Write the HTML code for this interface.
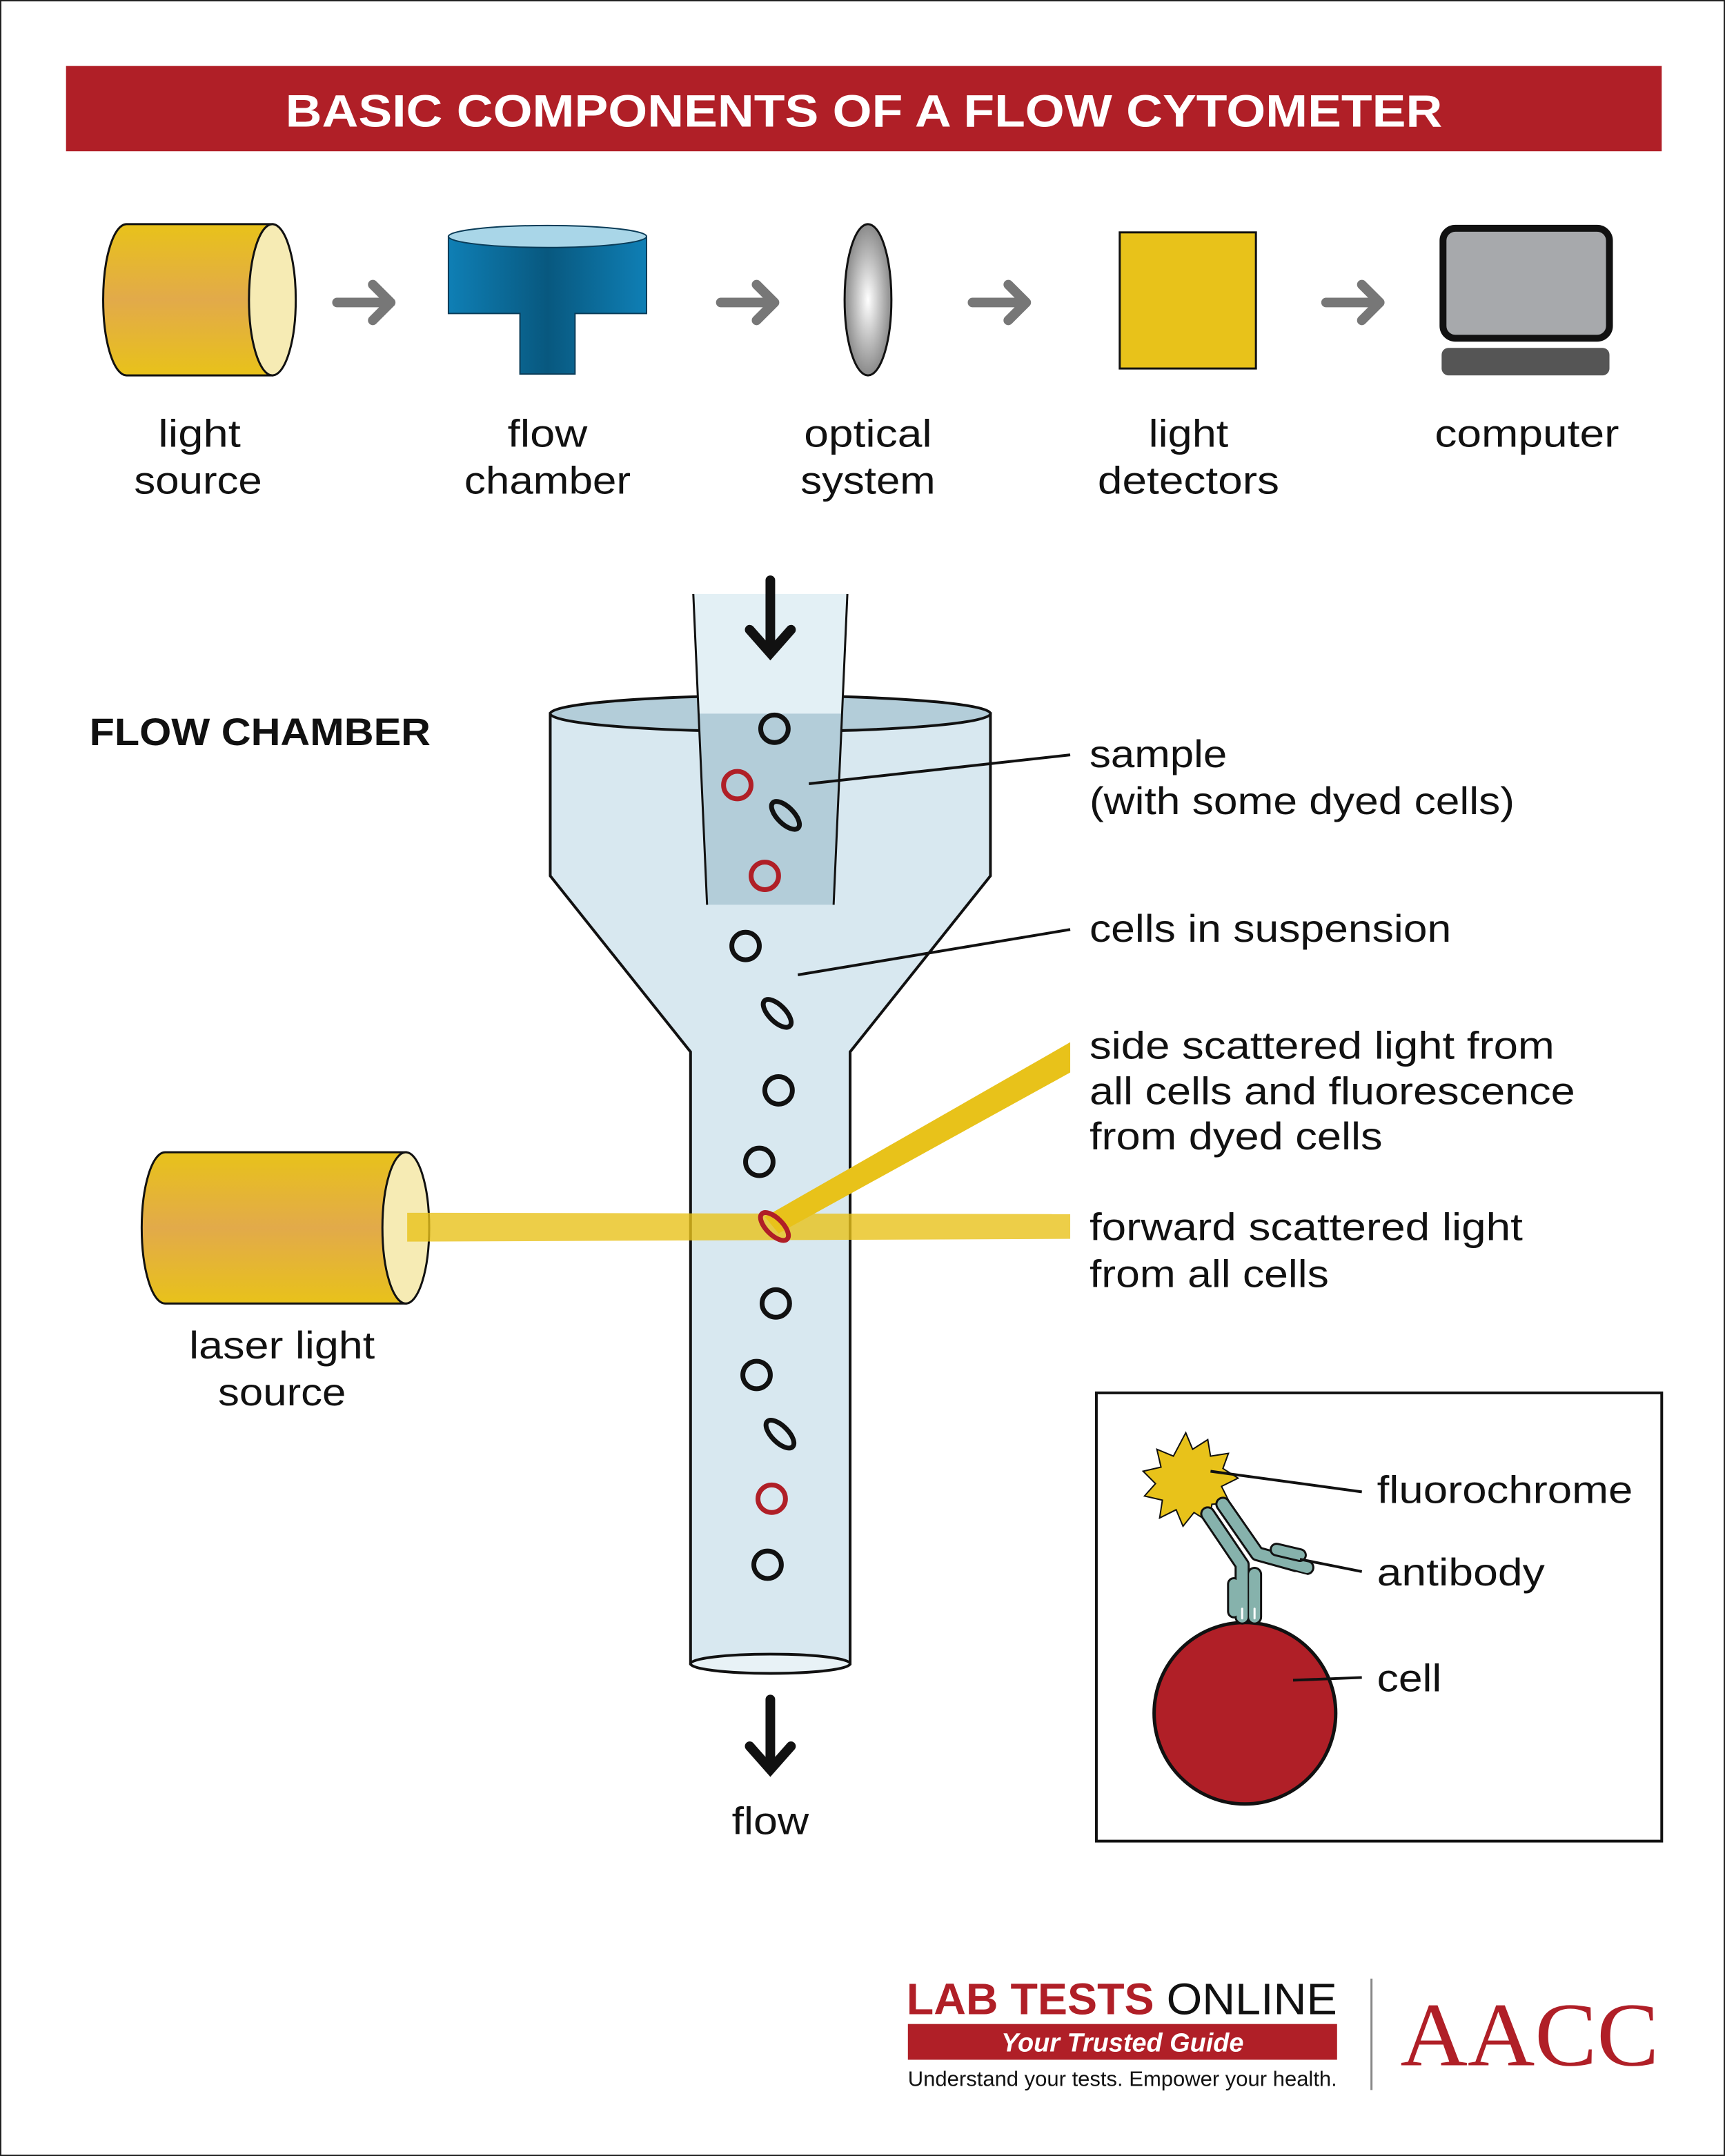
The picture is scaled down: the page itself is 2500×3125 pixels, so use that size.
<!DOCTYPE html>
<html><head><meta charset="utf-8"><style>
html,body{margin:0;padding:0;background:#fff}
svg{display:block}
text{font-family:"Liberation Sans",sans-serif;fill:#111}
</style></head><body>
<svg width="2500" height="3125" viewBox="0 0 1254 1568" preserveAspectRatio="none" xmlns="http://www.w3.org/2000/svg">
<defs>
<linearGradient id="cyl" x1="0" y1="0" x2="0" y2="1">
<stop offset="0" stop-color="#e8c21a"/><stop offset="0.5" stop-color="#e2aa4a"/><stop offset="1" stop-color="#e8c21a"/></linearGradient>
<linearGradient id="blue" x1="0" y1="0" x2="1" y2="0">
<stop offset="0" stop-color="#0f7fb5"/><stop offset="0.5" stop-color="#08587f"/><stop offset="1" stop-color="#0f7fb5"/></linearGradient>
<radialGradient id="lens"><stop offset="0" stop-color="#fff"/><stop offset="1" stop-color="#8a8a8a"/></radialGradient>
</defs>
<rect x="0.5" y="0.5" width="1253" height="1567" fill="#fff" stroke="#222" stroke-width="1"/>
<rect x="48" y="48" width="1160" height="62" fill="#b01f27"/>
<text x="628" y="92" text-anchor="middle" font-size="33" font-weight="bold" style="fill:#fff" textLength="841" lengthAdjust="spacingAndGlyphs">BASIC COMPONENTS OF A FLOW CYTOMETER</text>

<!-- light source -->
<path d="M92,163 H198 V273 H92 A17,55 0 0 1 92,163Z" fill="url(#cyl)" stroke="#111" stroke-width="1.5"/>
<ellipse cx="198" cy="218" rx="17" ry="55" fill="#f6ebb4" stroke="#111" stroke-width="1.5"/>
<g stroke="#777" stroke-width="7" stroke-linecap="round" stroke-linejoin="round" fill="none">
<path d="M245,220 H284 M271,207 L284,220 L271,233"/>
<path d="M524,220 H563 M550,207 L563,220 L550,233"/>
<path d="M707,220 H746 M733,207 L746,220 L733,233"/>
<path d="M964,220 H1003 M990,207 L1003,220 L990,233"/>
</g>
<path d="M326,172 H470 V228 H418 V272 H378 V228 H326Z" fill="url(#blue)" stroke="#0a3c58" stroke-width="1"/>
<ellipse cx="398" cy="172" rx="72" ry="8" fill="#a9d6e8" stroke="#0a3c58" stroke-width="1"/>
<ellipse cx="631" cy="218" rx="17" ry="55" fill="url(#lens)" stroke="#111" stroke-width="1.5"/>
<rect x="814" y="169" width="99" height="99" fill="#e8c21a" stroke="#111" stroke-width="1.5"/>
<rect x="1049" y="166" width="121" height="80" rx="9" fill="#a7a9ac" stroke="#111" stroke-width="5"/>
<rect x="1048" y="253" width="122" height="20" rx="5" fill="#555"/>

<g font-size="28" text-anchor="middle" lengthAdjust="spacingAndGlyphs">
<text x="145" y="325" textLength="60" lengthAdjust="spacingAndGlyphs">light</text><text x="144" y="359" textLength="93" lengthAdjust="spacingAndGlyphs">source</text>
<text x="398" y="325" textLength="58" lengthAdjust="spacingAndGlyphs">flow</text><text x="398" y="359" textLength="121" lengthAdjust="spacingAndGlyphs">chamber</text>
<text x="631" y="325" textLength="93" lengthAdjust="spacingAndGlyphs">optical</text><text x="631" y="359" textLength="98" lengthAdjust="spacingAndGlyphs">system</text>
<text x="864" y="325" textLength="58" lengthAdjust="spacingAndGlyphs">light</text><text x="864" y="359" textLength="132" lengthAdjust="spacingAndGlyphs">detectors</text>
<text x="1110" y="325" textLength="134" lengthAdjust="spacingAndGlyphs">computer</text>
</g>

<text x="65" y="542" font-size="28" font-weight="bold" textLength="248" lengthAdjust="spacingAndGlyphs">FLOW CHAMBER</text>

<path d="M400,519 V637 L502,765 V1210 H618 V765 L720,637 V519Z" fill="#d8e8f0" stroke="#111" stroke-width="2"/>
<ellipse cx="560" cy="1210" rx="58" ry="7" fill="#e8f2f6" stroke="#111" stroke-width="2"/>
<ellipse cx="560" cy="519" rx="160" ry="13" fill="#b3cdd9" stroke="#111" stroke-width="2"/>
<path d="M504,432 H616 L606,658 H514Z" fill="#b3cdd9"/>
<path d="M504,432 H616 L612,519 H508Z" fill="#e3f0f5"/>
<path d="M504,432 L514,658 M616,432 L606,658" stroke="#111" stroke-width="1.5" fill="none"/>
<path d="M560,422 V470 M545,458 L560,475 L575,458" stroke="#111" stroke-width="7" fill="none" stroke-linecap="round"/>
<path d="M560,1236 V1282 M545,1270 L560,1287 L575,1270" stroke="#111" stroke-width="7" fill="none" stroke-linecap="round"/>
<text x="560" y="1334" font-size="28" text-anchor="middle" textLength="56" lengthAdjust="spacingAndGlyphs">flow</text>

<path d="M120,838 H295 V948 H120 A17,55 0 0 1 120,838Z" fill="url(#cyl)" stroke="#111" stroke-width="1.5"/>
<ellipse cx="295" cy="893" rx="17" ry="55" fill="#f6ebb4" stroke="#111" stroke-width="1.5"/>
<path d="M296,882 L778,883 V901 L296,903Z" fill="#e8c21a" opacity="0.8"/>
<path d="M556,885 L778,758 V780 L566,897Z" fill="#e8c21a"/>
<text x="205" y="988" font-size="28" text-anchor="middle" textLength="135" lengthAdjust="spacingAndGlyphs">laser light</text>
<text x="205" y="1022" font-size="28" text-anchor="middle" textLength="93" lengthAdjust="spacingAndGlyphs">source</text>

<g fill="none" stroke-width="3.5">
<g stroke="#111">
<circle cx="563" cy="530" r="10"/><circle cx="542" cy="688" r="10"/><circle cx="566" cy="793" r="10"/><circle cx="552" cy="845" r="10"/><circle cx="564" cy="948" r="10"/><circle cx="550" cy="1000" r="10"/><circle cx="558" cy="1138" r="10"/>
<ellipse cx="571" cy="593" rx="13" ry="6" transform="rotate(45 571 593)"/>
<ellipse cx="565" cy="737" rx="13" ry="6" transform="rotate(45 565 737)"/>
<ellipse cx="567" cy="1043" rx="13" ry="6" transform="rotate(45 567 1043)"/>
</g>
<g stroke="#b01f27">
<circle cx="536" cy="571" r="10"/><circle cx="556" cy="637" r="10"/><circle cx="561" cy="1090" r="10"/>
<ellipse cx="563" cy="892" rx="13" ry="6" transform="rotate(45 563 892)"/>
</g>
</g>

<g stroke="#111" stroke-width="2">
<line x1="588" y1="570" x2="778" y2="549"/>
<line x1="580" y1="709" x2="778" y2="676"/>
</g>
<g font-size="28">
<text x="792" y="558" textLength="100" lengthAdjust="spacingAndGlyphs">sample</text><text x="792" y="592" textLength="309" lengthAdjust="spacingAndGlyphs">(with some dyed cells)</text>
<text x="792" y="685" textLength="263" lengthAdjust="spacingAndGlyphs">cells in suspension</text>
<text x="792" y="770" textLength="338" lengthAdjust="spacingAndGlyphs">side scattered light from</text><text x="792" y="803" textLength="353" lengthAdjust="spacingAndGlyphs">all cells and fluorescence</text><text x="792" y="836" textLength="213" lengthAdjust="spacingAndGlyphs">from dyed cells</text>
<text x="792" y="902" textLength="315" lengthAdjust="spacingAndGlyphs">forward scattered light</text><text x="792" y="936" textLength="174" lengthAdjust="spacingAndGlyphs">from all cells</text>
</g>

<!-- inset -->
<rect x="797" y="1013" width="411" height="326" fill="#fff" stroke="#111" stroke-width="2"/>
<circle cx="905" cy="1246" r="66" fill="#b01f27" stroke="#111" stroke-width="2.5"/>
<path d="M862,1042 l5,12 l11,-7 l2,12 l13,-2 l-4,11 l11,7 l-12,6 l6,12 l-13,1 l-2,13 l-11,-7 l-8,10 l-5,-12 l-12,6 l2,-13 l-13,-3 l8,-9 l-9,-9 l13,-3 l-3,-13 l12,5z" fill="#e8c21a" stroke="#111" stroke-width="1"/>
<g fill="none" stroke-linecap="round" stroke-linejoin="round">
<path d="M878,1101 L903,1138 V1176" stroke="#111" stroke-width="11"/>
<path d="M889,1094 L914,1130 L950,1140" stroke="#111" stroke-width="11"/>
<path d="M912,1145 V1176" stroke="#111" stroke-width="11"/>
<path d="M897,1152 V1172" stroke="#111" stroke-width="10"/>
<path d="M878,1101 L903,1138 V1176" stroke="#86b2ac" stroke-width="8"/>
<path d="M889,1094 L914,1130 L950,1140" stroke="#86b2ac" stroke-width="8"/>
<path d="M912,1145 V1176" stroke="#86b2ac" stroke-width="8"/>
<path d="M897,1152 V1172" stroke="#86b2ac" stroke-width="7"/>
<path d="M928,1127 L945,1131" stroke="#111" stroke-width="10"/>
<path d="M928,1127 L945,1131" stroke="#86b2ac" stroke-width="7"/>
<path d="M942,1144 L950,1146 M903,1170 V1177 M912,1170 V1177" stroke="#fff" stroke-width="1.5"/>
</g>
<g stroke="#111" stroke-width="2">
<line x1="880" y1="1070" x2="990" y2="1085"/>
<line x1="945" y1="1134" x2="990" y2="1143"/>
<line x1="940" y1="1222" x2="990" y2="1220"/>
</g>
<g font-size="28">
<text x="1001" y="1093" textLength="186" lengthAdjust="spacingAndGlyphs">fluorochrome</text>
<text x="1001" y="1153" textLength="122" lengthAdjust="spacingAndGlyphs">antibody</text>
<text x="1001" y="1230" textLength="47" lengthAdjust="spacingAndGlyphs">cell</text>
</g>

<text x="659" y="1465" font-size="32" font-weight="bold" style="fill:#b01f27" textLength="180" lengthAdjust="spacingAndGlyphs">LAB TESTS</text>
<text x="848" y="1465" font-size="32" textLength="124" lengthAdjust="spacingAndGlyphs">ONLINE</text>
<rect x="660" y="1472" width="312" height="26" fill="#b01f27"/>
<text x="816" y="1492" font-size="19" font-weight="bold" font-style="italic" text-anchor="middle" style="fill:#fff">Your Trusted Guide</text>
<text x="660" y="1517" font-size="15.5" textLength="312" lengthAdjust="spacingAndGlyphs">Understand your tests. Empower your health.</text>
<line x1="997" y1="1439" x2="997" y2="1520" stroke="#888" stroke-width="1.5"/>
<text x="1018" y="1502" font-size="66" style="fill:#b01f27;font-family:'Liberation Serif',serif" textLength="188" lengthAdjust="spacingAndGlyphs">AACC</text>
</svg>
</body></html>
